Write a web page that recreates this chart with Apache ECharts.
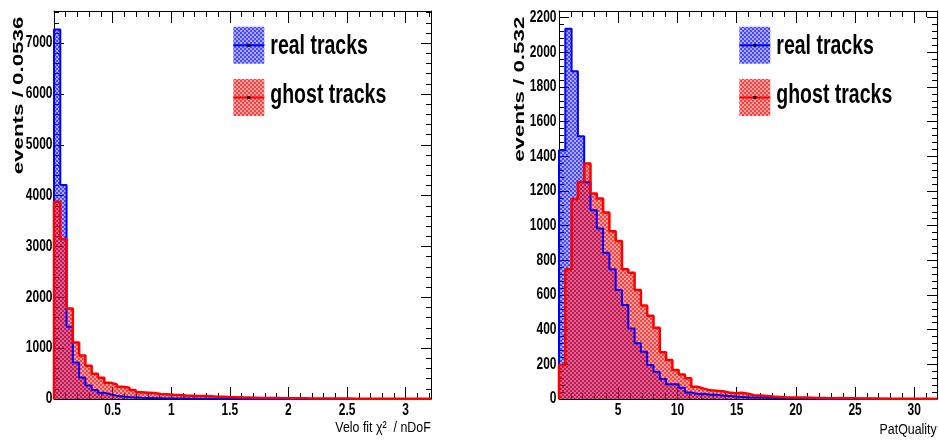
<!DOCTYPE html>
<html>
<head>
<meta charset="utf-8">
<script src="https://cdn.jsdelivr.net/npm/echarts@6/dist/echarts.min.js"></script>
<style>
  html, body { margin: 0; padding: 0; background: #ffffff; }
  #chart { width: 939px; height: 443px; }
</style>
</head>
<body>
<div id="chart"></div>
<script>
// ---- Velo fit chi2 / nDoF : 60 bins of 0.0536 ----
const veloBinStart = 0;
const veloBinWidth = 0.0536;
const veloReal = [7270, 4210, 1420, 720, 425, 268, 176, 124, 92, 65,
                  50, 40, 32, 26, 22, 18, 15, 12, 10, 9,
                  8, 7, 6, 5, 5, 4, 4, 3, 3, 3,
                  2, 2, 2, 2, 1, 1, 1, 1, 1, 1,
                  1, 1, 1, 0, 0, 0, 0, 0, 0, 0,
                  0, 0, 0, 0, 0, 0, 0, 0, 0, 0];
const veloGhost = [3880, 3150, 1780, 1110, 857, 653, 496, 418, 320, 288,
                   241, 222, 176, 131, 125, 118, 100, 95, 85, 80,
                   70, 65, 60, 58, 52, 45, 42, 38, 35, 30,
                   28, 25, 22, 22, 20, 18, 17, 15, 14, 13,
                   12, 11, 10, 10, 9, 8, 8, 7, 7, 6,
                   6, 5, 5, 5, 4, 4, 4, 3, 3, 3];

// ---- PatQuality : 60 bins of 0.532 ----
const patBinStart = 0;
const patBinWidth = 0.532;
const patReal = [1435, 2136, 1890, 1516, 1250, 1089, 984, 843, 748, 628,
                 542, 407, 321, 273, 196, 157, 115, 85, 85, 65,
                 38, 29, 30, 25, 24, 20, 18, 14, 12, 10,
                 9, 8, 7, 6, 5, 5, 4, 4, 3, 3,
                 3, 2, 2, 2, 2, 1, 1, 1, 1, 1,
                 1, 1, 0, 0, 0, 0, 0, 0, 0, 0];
const patGhost = [196, 748, 1153, 1252, 1358, 1185, 1157, 1076, 968, 912,
                  749, 728, 628, 540, 480, 411, 269, 225, 167, 142,
                  119, 71, 60, 50, 48, 45, 38, 33, 36, 30,
                  22, 20, 18, 14, 12, 10, 9, 8, 8, 7,
                  6, 6, 5, 5, 6, 4, 4, 3, 3, 3,
                  2, 2, 2, 2, 2, 1, 1, 1, 1, 1];

// ---- axis ranges, tick steps and labelled ticks ----
const veloXMax = 3.216, veloXMajor = 0.5, veloXMinor = 0.1;
const veloYMax = 7633, veloYMajor = 1000, veloYMinor = 200;
const patXMax = 31.92, patXMajor = 5, patXMinor = 1;
const patYMax = 2238, patYMajor = 200, patYMinor = 40;

const veloXTicks = [0.5, 1, 1.5, 2, 2.5, 3];
const veloYTicks = [0, 1000, 2000, 3000, 4000, 5000, 6000, 7000];
const patXTicks = [5, 10, 15, 20, 25, 30];
const patYTicks = [0, 200, 400, 600, 800, 1000, 1200, 1400, 1600, 1800, 2000, 2200];

const seriesNames = ['real tracks', 'ghost tracks'];
const veloYTitle = 'events / 0.0536';
const patYTitle = 'events / 0.532';
const veloXTitle = 'Velo fit \u03C7\u00B2  / nDoF';
const patXTitle = 'PatQuality';

// checkered fill like the ROOT hatch style
function checker(rgb, aDark, aLight) {
  const c = document.createElement('canvas');
  c.width = 4; c.height = 4;
  const g = c.getContext('2d');
  g.fillStyle = 'rgba(' + rgb + ',' + aLight + ')';
  g.fillRect(0, 0, 4, 4);
  g.fillStyle = 'rgba(' + rgb + ',' + aDark + ')';
  g.fillRect(0, 0, 2, 2);
  g.fillRect(2, 2, 2, 2);
  return { image: c, repeat: 'repeat' };
}
const blueFill = checker('20,20,255', 0.66, 0.36);
const redFill = checker('255,0,0', 0.62, 0.36);

// histogram outline as a step polyline over bin edges
function stepPoints(start, width, counts) {
  const pts = [[start, 0]];
  counts.forEach((c, i) => pts.push([start + i * width, c]));
  const end = start + counts.length * width;
  pts.push([end, counts[counts.length - 1]]);
  pts.push([end, 0]);
  return pts;
}

// one axis per side: "major" draws the frame line and long ticks, "minor" only short ticks
function xAxisPair(gridIndex, max, major, minor, position) {
  return [
    {
      type: 'value', gridIndex, position, min: 0, max, interval: major,
      axisLine: { show: true, onZero: false, lineStyle: { color: '#000', width: 1 } },
      axisTick: { show: true, inside: true, length: 12, lineStyle: { color: '#000', width: 1 } },
      splitLine: { show: false },
      axisLabel: { show: false }
    },
    {
      type: 'value', gridIndex, position, min: 0, max, interval: minor,
      axisLine: { show: false, onZero: false },
      axisTick: { show: true, inside: true, length: 6, lineStyle: { color: '#000', width: 1 } },
      splitLine: { show: false },
      axisLabel: { show: false }
    }
  ];
}
function yAxisPair(gridIndex, max, major, minor, position) {
  return [
    {
      type: 'value', gridIndex, position, min: 0, max, interval: major,
      axisLine: { show: true, onZero: false, lineStyle: { color: '#000', width: 1 } },
      axisTick: { show: true, inside: true, length: 10, lineStyle: { color: '#000', width: 1 } },
      splitLine: { show: false },
      axisLabel: { show: false }
    },
    {
      type: 'value', gridIndex, position, min: 0, max, interval: minor,
      axisLine: { show: false, onZero: false },
      axisTick: { show: true, inside: true, length: 5, lineStyle: { color: '#000', width: 1 } },
      splitLine: { show: false },
      axisLabel: { show: false }
    }
  ];
}

const xAxes = [].concat(
  xAxisPair(0, veloXMax, veloXMajor, veloXMinor, 'bottom'),   // 0,1
  xAxisPair(0, veloXMax, veloXMajor, veloXMinor, 'top'),      // 2,3
  xAxisPair(1, patXMax, patXMajor, patXMinor, 'bottom'),      // 4,5
  xAxisPair(1, patXMax, patXMajor, patXMinor, 'top')          // 6,7
);
const yAxes = [].concat(
  yAxisPair(0, veloYMax, veloYMajor, veloYMinor, 'left'),     // 0,1
  yAxisPair(0, veloYMax, veloYMajor, veloYMinor, 'right'),    // 2,3
  yAxisPair(1, patYMax, patYMajor, patYMinor, 'left'),        // 4,5
  yAxisPair(1, patYMax, patYMajor, patYMinor, 'right')        // 6,7
);

function histSeries(name, data, xIdx, yIdx, color, fill, width) {
  return {
    name, type: 'line', step: 'end', xAxisIndex: xIdx, yAxisIndex: yIdx,
    data, symbol: 'none', silent: true, animation: false,
    lineStyle: { color, width },
    areaStyle: { color: fill, opacity: 1 }
  };
}

// legend drawn as ROOT-style boxes: hatched swatch, line and a marker
function legendItems(x0) {
  const rows = [
    { name: seriesNames[0], color: '#0000ff', fill: blueFill, cy: 45.3, ty: 46.2 },
    { name: seriesNames[1], color: '#ff0000', fill: redFill, cy: 97.5, ty: 95.2 }
  ];
  const out = [];
  rows.forEach(r => {
    out.push({ type: 'rect', shape: { x: x0, y: r.cy - 18.5, width: 31, height: 37 },
               style: { fill: r.fill }, silent: true });
    out.push({ type: 'line', shape: { x1: x0, y1: r.cy, x2: x0 + 31, y2: r.cy },
               style: { stroke: r.color, lineWidth: 2 }, silent: true });
    out.push({ type: 'rect', shape: { x: x0 + 14, y: r.cy - 1.5, width: 3, height: 3 },
               style: { fill: '#000' }, silent: true });
    out.push({ type: 'text', x: x0 + 37, y: r.ty, scaleY: 1.42, silent: true,
               style: { text: r.name, fill: '#000', font: 'bold 19.5px "Liberation Sans", Arial, sans-serif',
                        align: 'left', verticalAlign: 'middle' } });
  });
  return out;
}

function yTitle(text, x) {
  return { type: 'text', x, y: 16.7, rotation: Math.PI / 2, scaleX: 1.45, silent: true,
           style: { text, fill: '#000', font: 'bold 15.4px "Liberation Sans", Arial, sans-serif',
                    align: 'right', verticalAlign: 'middle' } };
}
function xTitle(text, x, y) {
  return { type: 'text', x, y, scaleY: 1.25, silent: true,
           style: { text, fill: '#000', font: '12.4px "Liberation Sans", Arial, sans-serif',
                    align: 'right', verticalAlign: 'middle' } };
}

const tickFont = 'bold 12px "Liberation Sans", Arial, sans-serif';
function tickLabel(text, x, y, align) {
  return { type: 'text', x, y, scaleY: 1.3, silent: true,
           style: { text, fill: '#000', font: tickFont, align, verticalAlign: 'middle' } };
}

const chart = echarts.init(document.getElementById('chart'), null, { renderer: 'canvas' });
chart.setOption({
  backgroundColor: '#ffffff',
  animation: false,
  grid: [
    { left: 54, top: 11, width: 377, height: 388 },
    { left: 559, top: 11, width: 378, height: 388 }
  ],
  xAxis: xAxes,
  yAxis: yAxes,
  series: [
    histSeries(seriesNames[0], stepPoints(veloBinStart, veloBinWidth, veloReal), 0, 0, '#0000ff', blueFill, 2),
    histSeries(seriesNames[1], stepPoints(veloBinStart, veloBinWidth, veloGhost), 0, 0, '#ff0000', redFill, 2.5),
    histSeries(seriesNames[0], stepPoints(patBinStart, patBinWidth, patReal), 4, 4, '#0000ff', blueFill, 2),
    histSeries(seriesNames[1], stepPoints(patBinStart, patBinWidth, patGhost), 4, 4, '#ff0000', redFill, 2.5)
  ]
});

// tick labels placed through the axes' own scales
function axisLabels() {
  const out = [];
  const xLabelY = 411;
  veloXTicks.forEach(v => out.push(tickLabel(String(v),
    chart.convertToPixel({ xAxisIndex: 0 }, v), xLabelY, 'center')));
  patXTicks.forEach(v => out.push(tickLabel(String(v),
    chart.convertToPixel({ xAxisIndex: 4 }, v), xLabelY, 'center')));
  const veloLeft = chart.convertToPixel({ xAxisIndex: 0 }, 0);
  const patLeft = chart.convertToPixel({ xAxisIndex: 4 }, 0);
  veloYTicks.forEach(v => out.push(tickLabel(String(v), veloLeft - 1.5,
    chart.convertToPixel({ yAxisIndex: 0 }, v), 'right')));
  patYTicks.forEach(v => out.push(tickLabel(String(v), patLeft - 2.5,
    chart.convertToPixel({ yAxisIndex: 4 }, v), 'right')));
  return out;
}

chart.setOption({
  graphic: [].concat(
    legendItems(233.3),
    legendItems(739.3),
    [yTitle(veloYTitle, 19), yTitle(patYTitle, 520),
     xTitle(veloXTitle, 430.7, 427.9), xTitle(patXTitle, 936.7, 429.6)],
    axisLabels()
  )
});
</script>
</body>
</html>
